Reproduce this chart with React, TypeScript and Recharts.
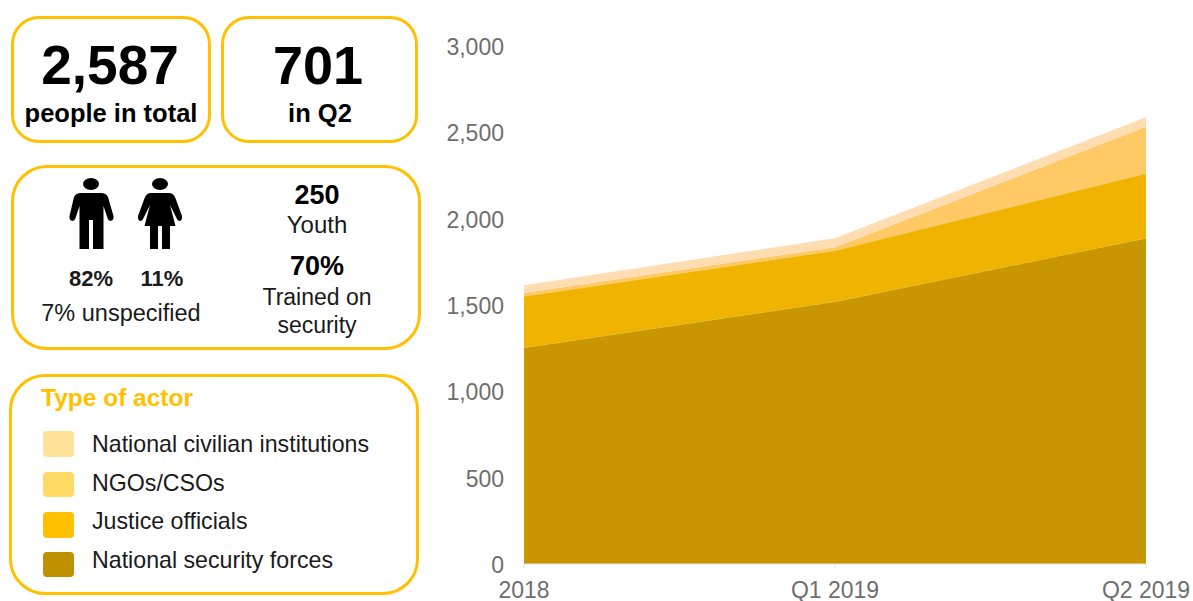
import React from "react";
import { AreaChart, Area, XAxis, YAxis } from "recharts";

const periods = ["2018", "Q1 2019", "Q2 2019"];
const securityForces = [1253, 1519, 1887];
const justiceOfficials = [297, 296, 375];
const ngosCsos = [20, 20, 270];
const civilianInstitutions = [45, 52, 55];
const yTicks = [0, 500, 1000, 1500, 2000, 2500, 3000];
const legendNames = ["National civilian institutions", "NGOs/CSOs", "Justice officials", "National security forces"];
const legendColors = ["#FFE297", "#FFD966", "#FFC000", "#BF9000"];

const rows = periods.map((period, i) => ({
  period,
  security: securityForces[i],
  justice: justiceOfficials[i],
  ngos: ngosCsos[i],
  civilian: civilianInstitutions[i],
}));

const FONT = '"Liberation Sans", Arial, sans-serif';
const GOLD = "#FFC000";

const Box = ({ x, y, w, h, r, children }: any) => (
  <div style={{ position: "absolute", left: x, top: y, width: w, height: h, boxSizing: "border-box", border: `3px solid ${GOLD}`, borderRadius: r, background: "#fff" }}>
    {children}
  </div>
);

const T = ({ cx, cy, size, bold, color, children, left }: any) => (
  <div style={{
    position: "absolute",
    left: cx,
    top: cy,
    transform: left ? "translateY(-50%)" : "translate(-50%,-50%)",
    fontFamily: FONT,
    fontSize: size,
    fontWeight: bold ? 700 : 400,
    color: color || "#1a1a1a",
    whiteSpace: "nowrap",
    lineHeight: 1,
  }}>{children}</div>
);

const Man = ({ x, y }: any) => (
  <svg style={{ position: "absolute", left: x, top: y }} width="46" height="72" viewBox="0 0 46 72">
    <ellipse cx="22" cy="6" rx="8" ry="6" fill="#000" />
    <path d="M12 15 H32 Q37 15 39 19 L44.5 38 Q45 42 42 43 Q39.5 43 38.5 40 L34.5 28 V71 H24 V42 H20 V71 H10.5 V28 L6.5 40 Q5.5 43 3 43 Q0 42 0.5 38 L5 19 Q7 15 12 15 Z" fill="#000" />
  </svg>
);

const Woman = ({ x, y }: any) => (
  <svg style={{ position: "absolute", left: x, top: y }} width="46" height="72" viewBox="0 0 46 72">
    <ellipse cx="23" cy="6" rx="8" ry="6" fill="#000" />
    <path d="M14 15 H32 Q36 15 38 19 L45 38 Q45.5 42 43 43 Q40.5 43 39.5 40 L33 27 L38.5 48 H33 V71 H25 V48 H21 V71 H13 V48 H7.5 L13 27 L6.5 40 Q5.5 43 3 43 Q0.5 42 1 38 L8 19 Q10 15 14 15 Z" fill="#000" />
  </svg>
);

const swatchTops = [431, 472, 512, 552];
const swatchHeights = [26, 25, 26, 25];
const labelCenters = [445, 484, 522, 561];

export default function App() {
  return (
    <div style={{ position: "absolute", left: 0, top: 0, width: 1193, height: 601, overflow: "hidden", background: "#fff" }}>
      <div style={{ position: "absolute", left: 0, top: 0 }}>
        <AreaChart width={1193} height={601} data={rows} margin={{ top: 46, right: 47, bottom: 0, left: 444 }}>
          <XAxis dataKey="period" type="category" scale="point" padding={{ left: 0, right: 0 }} interval={0} height={37}
            tick={{ fill: "#6E6E6E", fontSize: 23, fontFamily: FONT }} tickLine={{ stroke: "#E4E4E4" }} tickSize={5} tickMargin={13}
            axisLine={{ stroke: "#E4E4E4" }} />
          <YAxis type="number" domain={[0, 3000]} ticks={yTicks} width={80}
            tick={{ fill: "#6E6E6E", fontSize: 23, fontFamily: FONT, dy: 1 }} tickLine={false} axisLine={false} tickMargin={14}
            tickFormatter={(v: number) => v.toLocaleString("en-US")} />
          <Area type="linear" dataKey="security" stackId="a" fill="#C89600" fillOpacity={1} stroke="#E3BE55" strokeWidth={0.6} isAnimationActive={false} dot={false} activeDot={false} />
          <Area type="linear" dataKey="justice" stackId="a" fill="#F0B400" fillOpacity={1} stroke="#F6C94F" strokeWidth={0.6} isAnimationActive={false} dot={false} activeDot={false} />
          <Area type="linear" dataKey="ngos" stackId="a" fill="#FFC966" fillOpacity={1} stroke="none" isAnimationActive={false} dot={false} activeDot={false} />
          <Area type="linear" dataKey="civilian" stackId="a" fill="#FFDDB0" fillOpacity={1} stroke="none" isAnimationActive={false} dot={false} activeDot={false} />
        </AreaChart>
      </div>

      <Box x={11} y={16} w={200} h={127} r={28} />
      <T cx={110} cy={65} size={55} bold color="#000">2,587</T>
      <T cx={111} cy={114} size={25.5} bold color="#000">people in total</T>

      <Box x={221} y={16} w={197} h={127} r={28} />
      <T cx={318} cy={65} size={54} bold color="#000">701</T>
      <T cx={320} cy={114} size={25.5} bold color="#000">in Q2</T>

      <Box x={11} y={165} w={410} h={185} r={36} />
      <Man x={69} y={178} />
      <Woman x={137} y={178} />
      <T cx={91} cy={279} size={22} bold>82%</T>
      <T cx={162} cy={279} size={22} bold>11%</T>
      <T cx={121} cy={314} size={23.5}>7% unspecified</T>
      <T cx={317} cy={195} size={27} bold color="#000">250</T>
      <T cx={317} cy={225} size={24}>Youth</T>
      <T cx={317} cy={266} size={27} bold color="#000">70%</T>
      <T cx={317} cy={297} size={23}>Trained on</T>
      <T cx={317} cy={325} size={23}>security</T>

      <Box x={9} y={374} w={410} h={221} r={36} />
      <T left cx={41} cy={398} size={24.5} bold color={GOLD}>Type of actor</T>
      {legendNames.map((name, i) => (
        <React.Fragment key={name}>
          <div style={{ position: "absolute", left: 43, top: swatchTops[i], width: 31, height: swatchHeights[i], borderRadius: 4, background: legendColors[i] }} />
          <T left cx={92} cy={labelCenters[i]} size={23.2}>{name}</T>
        </React.Fragment>
      ))}
    </div>
  );
}
